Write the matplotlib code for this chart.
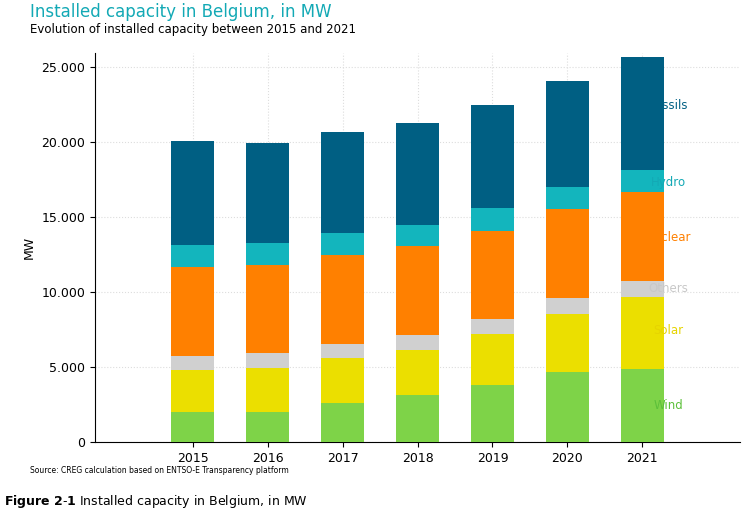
import numpy as np
import matplotlib.pyplot as plt
from matplotlib.ticker import FuncFormatter

years = ['2015', '2016', '2017', '2018', '2019', '2020', '2021']
# cumulative tops (MW)
wind_top = [2000, 2000, 2600, 3130, 3800, 4670, 4870]
solar_top = [4800, 4930, 5600, 6130, 7200, 8530, 9670]
others_top = [5730, 5930, 6530, 7130, 8200, 9600, 10730]
nuclear_top = [11670, 11800, 12470, 13070, 14070, 15530, 16670]
hydro_top = [13130, 13270, 13930, 14470, 15600, 17000, 18130]
fossils_top = [20070, 19930, 20670, 21270, 22470, 24070, 25670]

names = ['Wind', 'Solar', 'Others', 'Nuclear', 'Hydro', 'Fossils']
colors = ['#7ed348', '#ebdf00', '#d0d0d0', '#ff8000', '#13b5bd', '#005f83']
label_colors = ['#5cc03a', '#e6d400', '#c8c8c8', '#ff8000', '#13a9b5', '#005f83']
label_y = [2400, 7400, 10200, 13600, 17300, 22400]

tops = np.array([wind_top, solar_top, others_top, nuclear_top, hydro_top, fossils_top])
bottoms = np.vstack([np.zeros(len(years)), tops[:-1]])

fig = plt.figure(figsize=(7.55, 5.18), dpi=100)
ax = fig.add_axes([0.126, 0.147, 0.854, 0.75])
x = np.arange(len(years))
for i in range(len(names)):
    ax.bar(x, tops[i] - bottoms[i], bottom=bottoms[i], width=0.57, color=colors[i], zorder=3)
    ax.text(6.35, label_y[i], names[i], color=label_colors[i], fontsize=8.5, va='center', ha='center')

ax.set_xlim(-1.3, 7.3)
ax.set_ylim(0, 25900)
ax.set_yticks([0, 5000, 10000, 15000, 20000, 25000])
ax.yaxis.set_major_formatter(FuncFormatter(lambda v, p: f'{int(v):,}'.replace(',', '.')))
ax.set_xticks(x)
ax.set_xticklabels(years)
ax.tick_params(labelsize=9)
ax.set_ylabel('MW', fontsize=9)
ax.grid(True, color='#dddddd', ls=':', lw=0.8, zorder=0)
ax.spines['top'].set_visible(False)
ax.spines['right'].set_visible(False)

fig.text(0.04, 0.968, 'Installed capacity in Belgium, in MW', color='#13a9b5', fontsize=12)
fig.text(0.04, 0.937, 'Evolution of installed capacity between 2015 and 2021', fontsize=8.5)
fig.text(0.04, 0.087, 'Source: CREG calculation based on ENTSO-E Transparency platform', fontsize=5.5)
fig.text(0.005, 0.025, r'$\bf{Figure\ 2\text{-}1}$ Installed capacity in Belgium, in MW', fontsize=9)

fig.savefig('out.png')
